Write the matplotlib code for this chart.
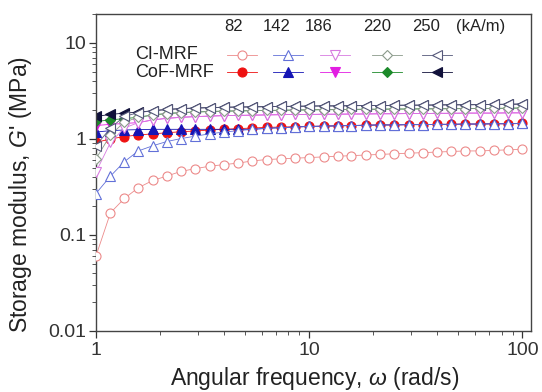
import matplotlib
matplotlib.use("Agg")
import matplotlib.pyplot as plt
from matplotlib.lines import Line2D
from matplotlib.ticker import FixedLocator, FixedFormatter, LogLocator, NullFormatter

plt.rcParams['font.family'] = ['Liberation Sans', 'DejaVu Sans']
plt.rcParams['mathtext.fontset'] = 'custom'
plt.rcParams['mathtext.it'] = 'Liberation Sans:italic'
plt.rcParams['mathtext.rm'] = 'Liberation Sans'

# angular frequency grid (rad/s)
omega = [1.0, 1.17, 1.36, 1.58, 1.85, 2.15, 2.51, 2.93, 3.41, 3.98, 4.64,
         5.41, 6.31, 7.36, 8.58, 10.0, 11.7, 13.6, 15.8, 18.5, 21.5, 25.1,
         29.3, 34.1, 39.8, 46.4, 54.1, 63.1, 73.6, 85.8, 100.0]

fields = ['82', '142', '186', '220', '250']

# CI-MRF storage modulus (MPa)
ci_82 = [0.06, 0.17, 0.24, 0.31, 0.37, 0.41, 0.46, 0.49, 0.52, 0.54, 0.56,
         0.59, 0.61, 0.62, 0.63, 0.64, 0.65, 0.66, 0.67, 0.68, 0.69, 0.70,
         0.71, 0.72, 0.73, 0.74, 0.75, 0.75, 0.76, 0.77, 0.78]
ci_142 = [0.27, 0.41, 0.58, 0.75, 0.85, 0.94, 1.01, 1.07, 1.13, 1.18, 1.22,
          1.26, 1.29, 1.31, 1.33, 1.35, 1.36, 1.37, 1.38, 1.39, 1.40, 1.40,
          1.41, 1.41, 1.42, 1.42, 1.43, 1.43, 1.44, 1.44, 1.45]
ci_186 = [0.45, 0.92, 1.30, 1.48, 1.58, 1.64, 1.68, 1.71, 1.73, 1.75, 1.76,
          1.77, 1.78, 1.79, 1.80, 1.80, 1.81, 1.81, 1.82, 1.82, 1.83, 1.83,
          1.84, 1.84, 1.85, 1.85, 1.86, 1.86, 1.86, 1.87, 1.87]
ci_220 = [0.62, 1.10, 1.50, 1.68, 1.78, 1.84, 1.88, 1.91, 1.93, 1.95, 1.96,
          1.97, 1.98, 1.99, 2.00, 2.01, 2.02, 2.02, 2.03, 2.04, 2.04, 2.05,
          2.05, 2.06, 2.06, 2.07, 2.07, 2.08, 2.08, 2.09, 2.10]
ci_250 = [0.85, 1.30, 1.72, 1.88, 1.97, 2.03, 2.07, 2.10, 2.12, 2.14, 2.15,
          2.16, 2.17, 2.18, 2.19, 2.20, 2.21, 2.21, 2.22, 2.23, 2.23, 2.24,
          2.25, 2.25, 2.26, 2.27, 2.27, 2.28, 2.29, 2.30, 2.31]

# CoF-MRF storage modulus (MPa)
cof_82 = [0.92, 1.00, 1.06, 1.10, 1.13, 1.16, 1.19, 1.21, 1.24, 1.26, 1.28,
          1.30, 1.32, 1.33, 1.34, 1.35, 1.36, 1.37, 1.38, 1.39, 1.40, 1.40,
          1.41, 1.41, 1.42, 1.42, 1.43, 1.43, 1.44, 1.44, 1.45]
cof_142 = [1.18, 1.22, 1.24, 1.25, 1.26, 1.26, 1.26, 1.26, 1.26, 1.26, 1.26,
           1.26, 1.29, 1.31, 1.33, 1.35, 1.36, 1.37, 1.38, 1.39, 1.40, 1.40,
           1.41, 1.41, 1.42, 1.42, 1.43, 1.43, 1.44, 1.44, 1.45]
cof_186 = [1.38, 1.42, 1.45, 1.48, 1.58, 1.64, 1.68, 1.71, 1.73, 1.75, 1.76,
           1.77, 1.78, 1.79, 1.80, 1.80, 1.81, 1.81, 1.82, 1.82, 1.83, 1.83,
           1.84, 1.84, 1.85, 1.85, 1.86, 1.86, 1.86, 1.87, 1.87]
cof_220 = [1.52, 1.58, 1.63, 1.68, 1.78, 1.84, 1.88, 1.91, 1.93, 1.95, 1.96,
           1.97, 1.98, 1.99, 2.00, 2.01, 2.02, 2.02, 2.03, 2.04, 2.04, 2.05,
           2.05, 2.06, 2.06, 2.07, 2.07, 2.08, 2.08, 2.09, 2.10]
cof_250 = [1.72, 1.80, 1.86, 1.90, 1.97, 2.03, 2.07, 2.10, 2.12, 2.14, 2.15,
           2.16, 2.17, 2.18, 2.19, 2.20, 2.21, 2.21, 2.22, 2.23, 2.23, 2.24,
           2.25, 2.25, 2.26, 2.27, 2.27, 2.28, 2.29, 2.30, 2.31]

ci_series = [ci_82, ci_142, ci_186, ci_220, ci_250]
cof_series = [cof_82, cof_142, cof_186, cof_220, cof_250]
ci_colors = ['#ec8a8a', '#6270d8', '#d77be0', '#8a9a8a', '#55587a']
cof_colors = ['#ee1111', '#1515b5', '#e21de2', '#1c8a2a', '#11113a']
markers = ['o', '^', 'v', 'D', '<']
msizes = [6.5, 6.5, 6.5, 5.5, 6.5]

fig = plt.figure(figsize=(5.42, 3.92), dpi=100)
ax = fig.add_axes([0.177, 0.156, 0.803, 0.808])

# filled first, open (white faced) on top
for ys, c, m, ms in zip(cof_series, cof_colors, markers, msizes):
    ax.plot(omega, ys, color=c, lw=0.6, marker=m, ms=ms, mfc=c, mec=c, mew=0.8, zorder=2)
for ys, c, m, ms in zip(ci_series, ci_colors, markers, msizes):
    ax.plot(omega, ys, color=c, lw=0.6, marker=m, ms=ms, mfc='white', mec=c, mew=0.8, zorder=3)

ax.set_xscale('log')
ax.set_yscale('log')
ax.set_xlim(1, 110)
ax.set_ylim(0.01, 20)

ax.xaxis.set_major_locator(FixedLocator([1, 10, 100]))
ax.xaxis.set_major_formatter(FixedFormatter(['1', '10', '100']))
ax.yaxis.set_major_locator(FixedLocator([0.01, 0.1, 1, 10]))
ax.yaxis.set_major_formatter(FixedFormatter(['0.01', '0.1', '1', '10']))
ax.xaxis.set_minor_locator(LogLocator(base=10, subs=range(2, 10)))
ax.yaxis.set_minor_locator(LogLocator(base=10, subs=range(2, 10)))
ax.xaxis.set_minor_formatter(NullFormatter())
ax.yaxis.set_minor_formatter(NullFormatter())
ax.tick_params(which='major', direction='out', length=5, width=0.9, labelsize=14, colors='#333333')
ax.tick_params(which='minor', direction='out', length=3, width=0.7, colors='#555555')
ax.tick_params(axis='x', pad=3)
ax.tick_params(axis='y', pad=2)
for s in ax.spines.values():
    s.set_color('#444444')
    s.set_linewidth(1.0)

ax.set_xlabel(r"Angular frequency, $\omega$ (rad/s)", fontsize=16.5, color='#222222')
ax.set_ylabel(r"Storage modulus, $G$' (MPa)", fontsize=16.5, color='#222222')
ax.xaxis.set_label_coords(0.503, -0.108)
ax.yaxis.set_label_coords(-0.143, 0.43)

# custom legend grid
col_x = [0.336, 0.441, 0.549, 0.669, 0.784]
head_x = [0.317, 0.416, 0.512, 0.646, 0.758]
for hx, f in zip(head_x, fields):
    ax.text(hx, 0.962, f, transform=ax.transAxes, ha='center', va='center', fontsize=12, color='#222222')
ax.text(0.885, 0.962, '(kA/m)', transform=ax.transAxes, ha='center', va='center', fontsize=12, color='#222222')
ax.text(0.09, 0.871, 'CI-MRF', transform=ax.transAxes, ha='left', va='center', fontsize=13, color='#222222')
ax.text(0.09, 0.817, 'CoF-MRF', transform=ax.transAxes, ha='left', va='center', fontsize=13, color='#222222')
for cx, c1, c2, m, ms in zip(col_x, ci_colors, cof_colors, markers, msizes):
    ax.add_line(Line2D([cx - 0.035, cx + 0.035], [0.871, 0.871], transform=ax.transAxes,
                       color=c1, lw=0.6))
    ax.add_line(Line2D([cx], [0.871], transform=ax.transAxes, color=c1, marker=m, ms=ms,
                       mfc='white', mec=c1, mew=0.8))
    ax.add_line(Line2D([cx - 0.035, cx + 0.035], [0.817, 0.817], transform=ax.transAxes,
                       color=c2, lw=0.6))
    ax.add_line(Line2D([cx], [0.817], transform=ax.transAxes, color=c2, marker=m, ms=ms,
                       mfc=c2, mec=c2, mew=0.8))

fig.savefig('out.png', dpi=100)
